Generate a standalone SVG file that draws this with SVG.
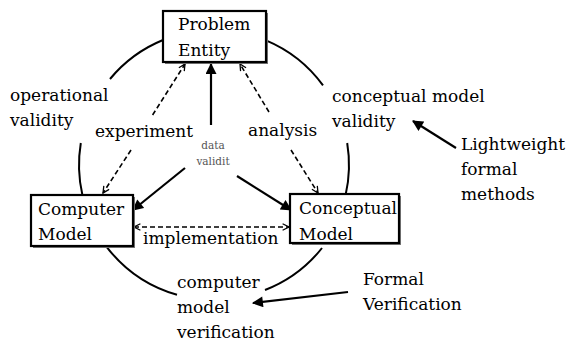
<svg xmlns="http://www.w3.org/2000/svg" width="566" height="341" viewBox="0 0 566 341">
<style>
  text { font-family: "DejaVu Serif", "Liberation Serif", serif; font-size: 17px; fill: #000; }
  .small { font-size: 10.5px; fill: #555; }
  .box { fill: #fff; stroke: #000; stroke-width: 2.2; }
  .shadow { fill: #777; }
  .arc { fill: none; stroke: #000; stroke-width: 2; }
  .solid { fill: none; stroke: #000; stroke-width: 2.2; }
  .dash { fill: none; stroke: #000; stroke-width: 1.6; stroke-dasharray: 5 3; }
</style>
<defs>
  <marker id="fill" viewBox="0 0 10 10" refX="9" refY="5" markerWidth="5.5" markerHeight="5" orient="auto-start-reverse">
    <path d="M0,0 L10,5 L0,10 z" fill="#000"/>
  </marker>
  <marker id="open" viewBox="0 0 10 10" refX="9" refY="5" markerWidth="8" markerHeight="8" markerUnits="userSpaceOnUse" orient="auto-start-reverse">
    <path d="M1,1 L9,5 L1,9" fill="none" stroke="#000" stroke-width="1.6"/>
  </marker>
</defs>
<rect width="566" height="341" fill="#fff"/>

<g id="connectors">
  <path class="arc" d="M110,79 A135,135 0 0 1 163,40"/>
  <path class="arc" d="M82.4,195 A135,135 0 0 1 80.8,143"/>
  <path class="arc" d="M177,294.8 A135,135 0 0 1 107,247.3"/>
  <path class="arc" d="M322,248 A135,135 0 0 1 265,290"/>
  <path class="arc" d="M347.2,143 A135,135 0 0 1 345.6,195"/>
  <path class="arc" d="M266,40.4 A135,135 0 0 1 323,85.4"/>
  <path class="dash" d="M152.6,115 L185,64" marker-end="url(#open)"/>
  <path class="dash" d="M131,150 L103,193" marker-end="url(#open)"/>
  <path class="dash" d="M269,112 L240,64" marker-end="url(#open)"/>
  <path class="dash" d="M291,150 L318,193" marker-end="url(#open)"/>
  <path class="solid" d="M211,125 L211,64" marker-end="url(#fill)"/>
  <path class="solid" d="M185,168 L133,210" marker-end="url(#fill)"/>
  <path class="solid" d="M237,176 L291,210" marker-end="url(#fill)"/>
  <path class="dash" d="M134,227 L289,227" marker-start="url(#open)" marker-end="url(#open)"/>
  <path class="solid" d="M456,148 L413,121" marker-end="url(#fill)"/>
  <path class="solid" d="M348,292 L253,303" marker-end="url(#fill)"/>
</g>

<g id="problem-entity">
  <rect class="shadow" x="165" y="13" width="103" height="51"/>
  <rect class="box" x="163" y="11" width="103" height="51"/>
  <text x="178" y="30">Problem</text>
  <text x="178" y="56">Entity</text>
</g>

<g id="computer-model">
  <rect class="shadow" x="33" y="197" width="102" height="51"/>
  <rect class="box" x="31" y="195" width="102" height="51"/>
  <text x="38" y="215">Computer</text>
  <text x="38" y="240">Model</text>
</g>

<g id="conceptual-model">
  <rect class="shadow" x="292" y="196" width="109" height="49"/>
  <rect class="box" x="290" y="194" width="109" height="49"/>
  <text x="299" y="214">Conceptual</text>
  <text x="299" y="240">Model</text>
</g>

<g id="labels">
  <text x="10" y="101">operational</text>
  <text x="10" y="126">validity</text>
  <text x="95" y="137">experiment</text>
  <text x="248" y="136">analysis</text>
  <text class="small" x="213" y="149" text-anchor="middle">data</text>
  <text class="small" x="213" y="165" text-anchor="middle">validit</text>
  <text x="332" y="102">conceptual model</text>
  <text x="332" y="127">validity</text>
  <text x="461" y="150">Lightweight</text>
  <text x="461" y="175">formal</text>
  <text x="461" y="200">methods</text>
  <text x="143" y="244">implementation</text>
  <text x="177" y="288">computer</text>
  <text x="177" y="313">model</text>
  <text x="177" y="338">verification</text>
  <text x="363" y="285">Formal</text>
  <text x="363" y="310">Verification</text>
</g>
</svg>
